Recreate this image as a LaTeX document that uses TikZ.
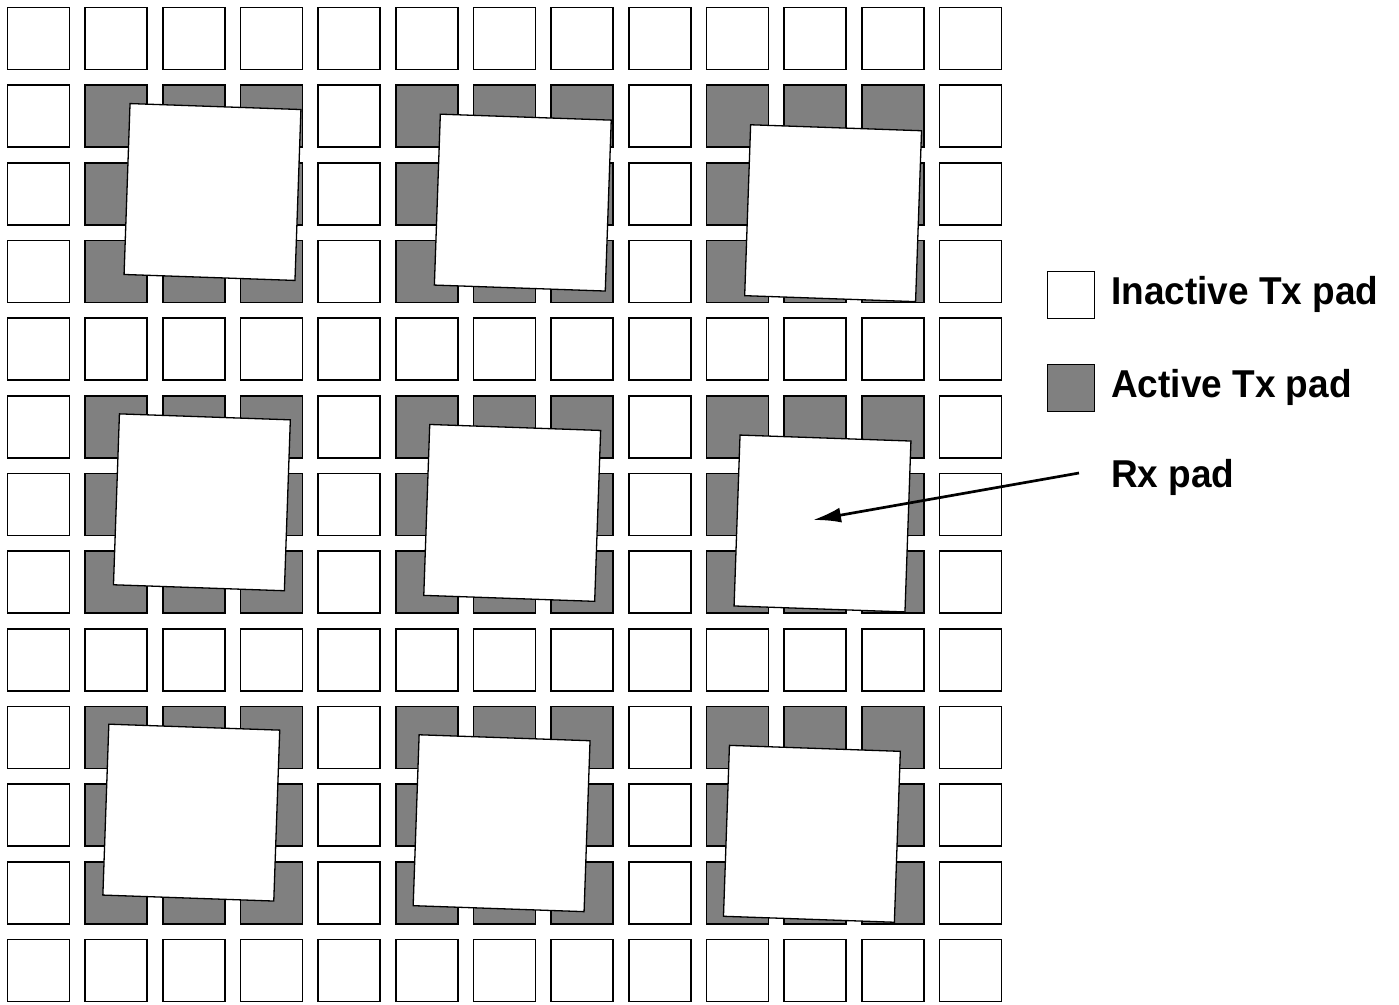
\documentclass[tikz,border=0pt]{standalone}
\usepackage{fontspec}
\setmainfont{Liberation Sans}
\usetikzlibrary{arrows.meta}
\definecolor{padgray}{RGB}{128,128,128}
\begin{document}
\begin{tikzpicture}[x=1pt,y=-1pt,
  txoff/.style={draw=black,fill=white,line width=1.5pt,minimum size=62pt,inner sep=0pt,outer sep=0pt},
  txon/.style={txoff,fill=padgray},
  rxpad/.style={draw=black,fill=white,line width=1.3pt,minimum size=171pt,inner sep=0pt,rotate=-2},
  legbox/.style={draw=black,line width=1.2pt,minimum size=47pt,inner sep=0pt},
  legtext/.style={anchor=base west,inner sep=0pt,yscale=1.05,font=\fontsize{37}{40}\bfseries\selectfont}]
\useasboundingbox (0,0) rectangle (1399,1004);
% Tx pad grid
\foreach \i in {0,...,12}{
  \foreach \j in {0,...,12}{
    \pgfmathtruncatemacro{\ii}{mod(\i,4)}
    \pgfmathtruncatemacro{\jj}{mod(\j,4)}
    \ifnum\ii=0
      \node[txoff] (t-\i-\j) at ({38.5+77.67*\i},{38.5+77.67*\j}) {};
    \else\ifnum\jj=0
      \node[txoff] (t-\i-\j) at ({38.5+77.67*\i},{38.5+77.67*\j}) {};
    \else
      \node[txon] (t-\i-\j) at ({38.5+77.67*\i},{38.5+77.67*\j}) {};
    \fi\fi
  }
}
% Rx pads
\foreach \a in {0,1,2}{
  \foreach \b in {0,1,2}{
    \node[rxpad] (rx-\a-\b) at ({212.5+310.3*\a-10.6*\b},{192+10.6*\a+310.3*\b}) {};
  }
}
% Legend
\node[legbox,fill=white] (leg-inactive) at (1071.3,294.7) {};
\node[legbox,fill=padgray] (leg-active) at (1071.3,388) {};
\node[legtext] (lab-inactive) at (1111,304) {Inactive Tx pad};
\node[legtext] (lab-active) at (1111,397) {Active Tx pad};
\node[legtext] (lab-rx) at (1111,487) {Rx pad};
% Arrow
\coordinate (arr-start) at (1079,473);
\coordinate (arr-end) at (813,520);
\draw[line width=2.7pt,-{Latex[length=28pt,width=15pt]}] (arr-start) -- (arr-end);
\end{tikzpicture}
\end{document}
